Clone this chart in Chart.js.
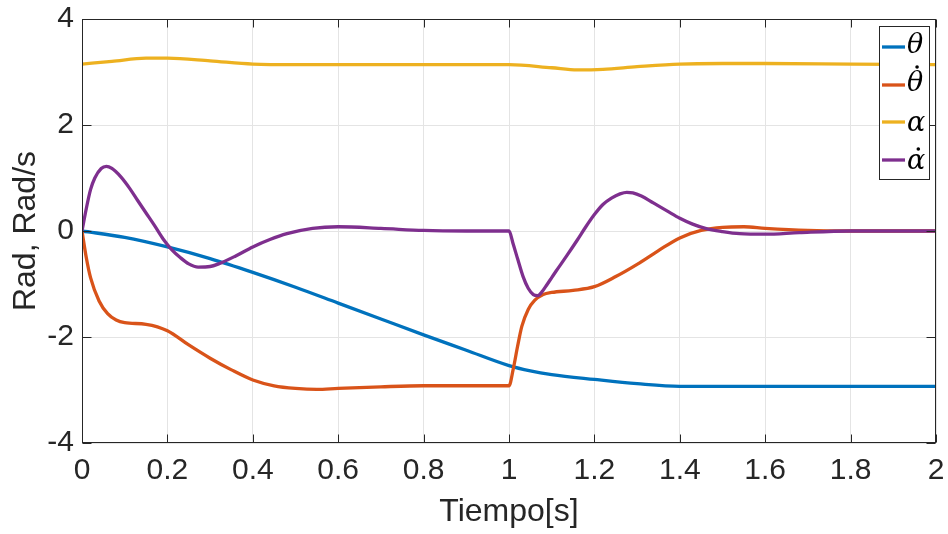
<!DOCTYPE html>
<html>
<head>
<meta charset="utf-8">
<script src="https://cdn.jsdelivr.net/npm/chart.js@4.4.1/dist/chart.umd.min.js"></script>
<style>
  html, body { margin: 0; padding: 0; background: #fff; }
  #wrap { width: 948px; height: 534px; }
</style>
</head>
<body>
<div id="wrap"><canvas id="stateChart" width="948" height="534"></canvas></div>
<script>
// pendulum states over time (rad, rad/s)
const tTheta = [0, 0.1, 0.2, 0.3, 0.4, 0.5, 0.6, 0.7, 0.8, 0.9, 1.0, 1.05, 1.1, 1.2, 1.3, 1.4, 1.5, 1.6, 1.8, 2.0];
const theta = [0, -0.12, -0.3, -0.52, -0.78, -1.06, -1.36, -1.66, -1.96, -2.25, -2.54, -2.64, -2.71, -2.8, -2.88, -2.93, -2.93, -2.93, -2.93, -2.93];

const tThetaDot = [0, 0.01, 0.02, 0.04, 0.06, 0.08, 0.1, 0.15, 0.2, 0.25, 0.3, 0.35, 0.4, 0.45, 0.5, 0.55, 0.6, 0.7, 0.8, 0.9, 1.0,
  1.01, 1.02, 1.03, 1.045, 1.06, 1.08, 1.1, 1.15, 1.2, 1.25, 1.3, 1.35, 1.4, 1.45, 1.5, 1.55, 1.6, 1.7, 1.8, 2.0];
const thetaDot = [0, -0.5, -0.88, -1.32, -1.56, -1.68, -1.73, -1.76, -1.88, -2.15, -2.4, -2.62, -2.81, -2.92, -2.97, -2.99, -2.97, -2.94, -2.92, -2.92, -2.92,
  -2.6, -2.18, -1.8, -1.48, -1.31, -1.2, -1.16, -1.12, -1.05, -0.86, -0.63, -0.37, -0.13, 0.01, 0.07, 0.08, 0.05, 0.01, 0, 0];

const tAlpha = [0, 0.07, 0.15, 0.2, 0.3, 0.4, 0.5, 0.7, 1.0, 1.1, 1.16, 1.22, 1.3, 1.4, 1.5, 1.6, 1.8, 2.0];
const alpha = [3.15, 3.2, 3.26, 3.26, 3.21, 3.15, 3.14, 3.14, 3.14, 3.08, 3.04, 3.05, 3.1, 3.15, 3.16, 3.16, 3.15, 3.14];

const tAlphaDot = [0, 0.01, 0.02, 0.03, 0.045, 0.057, 0.07, 0.09, 0.112, 0.13, 0.15, 0.17, 0.19, 0.21, 0.23, 0.25, 0.272, 0.3, 0.32, 0.36,
  0.4, 0.44, 0.48, 0.54, 0.6, 0.7, 0.8, 0.9, 1.0, 1.01, 1.02, 1.033, 1.045, 1.057, 1.067, 1.077, 1.09, 1.1, 1.11, 1.135, 1.16, 1.18, 1.2,
  1.22, 1.24, 1.26, 1.276, 1.29, 1.31, 1.338, 1.37, 1.4, 1.43, 1.46, 1.5, 1.54, 1.6, 1.68, 1.8, 2.0];
const alphaDot = [0, 0.42, 0.78, 1.0, 1.18, 1.22, 1.18, 1.03, 0.8, 0.58, 0.34, 0.1, -0.15, -0.35, -0.5, -0.62, -0.68, -0.67, -0.62, -0.47,
  -0.3, -0.16, -0.05, 0.05, 0.08, 0.05, 0.01, 0, 0, -0.25, -0.52, -0.86, -1.08, -1.2, -1.22, -1.15, -1.0, -0.88, -0.76, -0.47, -0.17, 0.08, 0.31,
  0.5, 0.62, 0.7, 0.73, 0.72, 0.66, 0.53, 0.38, 0.24, 0.13, 0.05, -0.01, -0.05, -0.06, -0.03, 0, 0];

const xTicks = [0, 0.2, 0.4, 0.6, 0.8, 1, 1.2, 1.4, 1.6, 1.8, 2];
const yTicks = [-4, -2, 0, 2, 4];
const seriesLabels = ["\u03B8", "\u03B8", "\u03B1", "\u03B1"];
const seriesDotted = [false, true, false, true];

const palette = {
  theta: "#0072BD",
  thetaDot: "#D95319",
  alpha: "#EDB120",
  alphaDot: "#7E2F8E",
  axis: "#262626",
  grid: "#e4e4e4",
};

function toPoints(ts, vs) {
  return ts.map((t, i) => ({ x: t, y: vs[i] }));
}

function series(label, ts, vs, color, order) {
  return {
    label,
    data: toPoints(ts, vs),
    borderColor: color,
    backgroundColor: color,
    borderWidth: 3.3,
    pointRadius: 0,
    cubicInterpolationMode: "monotone",
    order,
  };
}

// box with inward ticks on all four sides, then the legend on top
const framePlugin = {
  id: "frame",
  afterDatasetsDraw(chart) {
    const { ctx, chartArea: a, scales } = chart;
    const L = a.left + 0.5, R = a.right - 0.5, T = a.top + 0.5, B = a.bottom - 0.5;
    ctx.save();
    ctx.strokeStyle = palette.axis;
    ctx.lineWidth = 1;
    ctx.beginPath();
    xTicks.forEach((v) => {
      const px = Math.round(scales.x.getPixelForValue(v)) + 0.5;
      ctx.moveTo(px, B); ctx.lineTo(px, B - 8);
      ctx.moveTo(px, T); ctx.lineTo(px, T + 8);
    });
    yTicks.forEach((v) => {
      const py = Math.round(scales.y.getPixelForValue(v)) + 0.5;
      ctx.moveTo(L, py); ctx.lineTo(L + 9, py);
      ctx.moveTo(R, py); ctx.lineTo(R - 9, py);
    });
    ctx.stroke();
    ctx.strokeRect(L, T, R - L, B - T);

    // legend
    const box = { x: 879.5, y: 26.5, w: 50, h: 153 };
    ctx.fillStyle = "#fff";
    ctx.fillRect(box.x, box.y, box.w, box.h);
    ctx.strokeStyle = palette.axis;
    ctx.strokeRect(box.x, box.y, box.w, box.h);
    const rows = [47, 85, 122, 160];
    ctx.font = "italic 27px 'DejaVu Serif', 'Liberation Serif', serif";
    ctx.textBaseline = "middle";
    ctx.textAlign = "left";
    chart.data.datasets.forEach((ds, i) => {
      const yy = rows[i];
      ctx.strokeStyle = ds.borderColor;
      ctx.lineWidth = 3.3;
      ctx.beginPath();
      ctx.moveTo(882, yy);
      ctx.lineTo(905, yy);
      ctx.stroke();
      ctx.fillStyle = "#000";
      const lift = seriesLabels[i] === "\u03B8" ? 0 : 3;
      ctx.fillText(ds.label, 907, yy - 1 + lift);
      if (seriesDotted[i]) {
        const w = ctx.measureText(ds.label).width;
        ctx.beginPath();
        ctx.arc(907 + w * 0.62, seriesLabels[i] === "\u03B8" ? yy - 18 : yy - 11, 1.8, 0, Math.PI * 2);
        ctx.fill();
      }
    });
    ctx.restore();
  },
};

const tickFont = { family: "'Liberation Sans', Arial, sans-serif", size: 30 };
const titleFont = { family: "'Liberation Sans', Arial, sans-serif", size: 32 };

new Chart(document.getElementById("stateChart"), {
  type: "line",
  data: {
    datasets: [
      series(seriesLabels[0], tTheta, theta, palette.theta, 4),
      series(seriesLabels[1], tThetaDot, thetaDot, palette.thetaDot, 3),
      series(seriesLabels[2], tAlpha, alpha, palette.alpha, 2),
      series(seriesLabels[3], tAlphaDot, alphaDot, palette.alphaDot, 1),
    ],
  },
  options: {
    responsive: false,
    devicePixelRatio: 1,
    animation: false,
    layout: { padding: 0 },
    plugins: {
      legend: { display: false },
      tooltip: { enabled: false },
    },
    scales: {
      x: {
        type: "linear",
        min: 0,
        max: 2,
        afterBuildTicks: (scale) => { scale.ticks = xTicks.map((v) => ({ value: v })); },
        afterFit: (scale) => {
          scale.height = 91;
          scale.paddingLeft = 0;
          scale.paddingRight = 12;
        },
        ticks: {
          color: palette.axis,
          font: tickFont,
          padding: 10,
          maxRotation: 0,
          autoSkip: false,
          callback: (v) => String(Math.round(v * 10) / 10),
        },
        grid: { color: palette.grid, lineWidth: 1, drawTicks: false },
        border: { display: false },
        title: {
          display: true,
          text: "Tiempo[s]",
          color: palette.axis,
          font: titleFont,
          padding: { top: 0, bottom: 3 },
        },
      },
      y: {
        min: -4,
        max: 4,
        afterBuildTicks: (scale) => { scale.ticks = yTicks.map((v) => ({ value: v })); },
        afterFit: (scale) => {
          scale.width = 82;
          scale.paddingTop = 19;
          scale.paddingBottom = 0;
        },
        ticks: {
          color: palette.axis,
          font: tickFont,
          padding: 8,
          callback: (v) => String(v),
        },
        grid: { color: palette.grid, lineWidth: 1, drawTicks: false },
        border: { display: false },
        title: {
          display: true,
          text: "Rad, Rad/s",
          color: palette.axis,
          font: titleFont,
          padding: { top: 7, bottom: 0 },
        },
      },
    },
  },
  plugins: [framePlugin],
});
</script>
</body>
</html>
